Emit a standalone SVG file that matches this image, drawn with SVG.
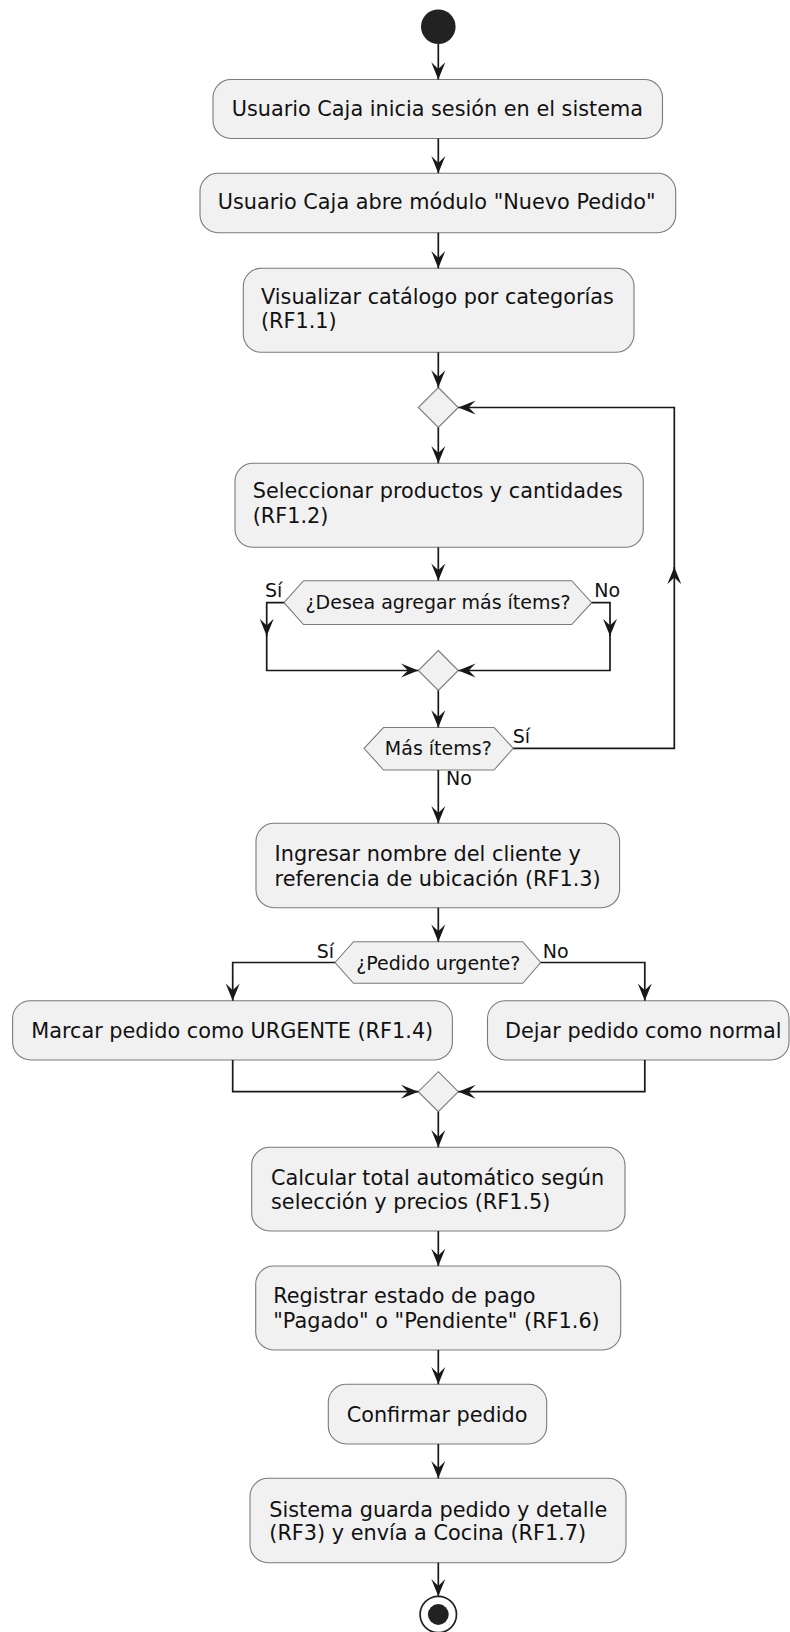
<svg xmlns="http://www.w3.org/2000/svg" width="790" height="1632" viewBox="0 0 790 1632">
  <defs>
    <style>
      .act { fill: #F1F1F1; stroke: #7A7A7A; stroke-width: 1.1; }
      .dec { fill: #F1F1F1; stroke: #7A7A7A; stroke-width: 1.1; }
      .t { font-family: "DejaVu Sans", "Liberation Sans", sans-serif; font-size: 20.8px; fill: #111; }
      .td { font-family: "DejaVu Sans", "Liberation Sans", sans-serif; font-size: 19px; fill: #111; text-anchor: middle; }
      .tl { font-family: "DejaVu Sans", "Liberation Sans", sans-serif; font-size: 19px; fill: #111; }
      .edge { fill: none; stroke: #181818; stroke-width: 1.7; marker-end: url(#arrow); }
    </style>
    <marker id="arrow" markerUnits="userSpaceOnUse" viewBox="-18 -8 19 16" markerWidth="19" markerHeight="16" refX="0" refY="0" orient="auto">
      <path d="M-17.3,-7 L0,0 L-17.3,7 L-10.4,0 Z" fill="#181818"/>
    </marker>
  </defs>
  <rect width="790" height="1632" fill="#FFFFFF"/>

  <!-- start / end -->
  <g id="start"><circle cx="438.3" cy="26.7" r="17.3" fill="#222222"/></g>
  <g id="end">
    <circle cx="438.3" cy="1614.5" r="18.2" fill="none" stroke="#222222" stroke-width="1.7"/>
    <circle cx="438.3" cy="1614.5" r="10.4" fill="#222222"/>
  </g>

  <!-- activities -->
  <g id="login">
    <rect class="act" x="213" y="79.5" width="449.5" height="59" rx="18"/>
    <text class="t" x="231.7" y="116">Usuario Caja inicia sesión en el sistema</text>
  </g>
  <g id="open-module">
    <rect class="act" x="200" y="173.3" width="475.7" height="59.4" rx="18"/>
    <text class="t" x="217.7" y="209.3">Usuario Caja abre módulo "Nuevo Pedido"</text>
  </g>
  <g id="catalog">
    <rect class="act" x="243.3" y="268.3" width="390.7" height="84" rx="18"/>
    <text class="t" x="261" y="304">Visualizar catálogo por categorías</text>
    <text class="t" x="261" y="328.3">(RF1.1)</text>
  </g>
  <g id="loop-merge">
    <polygon class="dec" points="438.3,387.5 458.3,407.5 438.3,427.5 418.3,407.5"/>
  </g>
  <g id="select-products">
    <rect class="act" x="235" y="463.3" width="408.3" height="84" rx="18"/>
    <text class="t" x="252.7" y="498.3">Seleccionar productos y cantidades</text>
    <text class="t" x="252.7" y="523.3">(RF1.2)</text>
  </g>
  <g id="ask-more">
    <polygon class="dec" points="284,602.7 303.5,580.7 571.7,580.7 591.7,602.7 571.7,624.5 303.5,624.5"/>
    <text class="td" x="438" y="609.3">¿Desea agregar más ítems?</text>
  </g>
  <g id="ask-merge">
    <polygon class="dec" points="438.3,650.5 458.3,670.5 438.3,690.5 418.3,670.5"/>
  </g>
  <g id="more-items">
    <polygon class="dec" points="364,748.3 383.5,727.5 494,727.5 513.3,748.3 494,770 383.5,770"/>
    <text class="td" x="438.3" y="754.5">Más ítems?</text>
  </g>
  <g id="customer">
    <rect class="act" x="256" y="823.3" width="363.6" height="84.4" rx="18"/>
    <text class="t" x="274.6" y="861">Ingresar nombre del cliente y</text>
    <text class="t" x="274.6" y="886">referencia de ubicación (RF1.3)</text>
  </g>
  <g id="urgent">
    <polygon class="dec" points="335,962.5 353.5,941.7 522.7,941.7 540.7,962.5 522.7,983.3 353.5,983.3"/>
    <text class="td" x="438.3" y="970">¿Pedido urgente?</text>
  </g>
  <g id="mark-urgent">
    <rect class="act" x="12.6" y="1000.7" width="439.8" height="59.3" rx="18"/>
    <text class="t" x="31.2" y="1038.3">Marcar pedido como URGENTE (RF1.4)</text>
  </g>
  <g id="keep-normal">
    <rect class="act" x="487.5" y="1000.7" width="301.5" height="59.3" rx="18"/>
    <text class="t" x="505" y="1038.3">Dejar pedido como normal</text>
  </g>
  <g id="urgent-merge">
    <polygon class="dec" points="438.3,1071.7 458.3,1091.7 438.3,1111.7 418.3,1091.7"/>
  </g>
  <g id="total">
    <rect class="act" x="251.7" y="1147.3" width="373.3" height="83.7" rx="18"/>
    <text class="t" x="271" y="1185">Calcular total automático según</text>
    <text class="t" x="271" y="1209.3">selección y precios (RF1.5)</text>
  </g>
  <g id="payment">
    <rect class="act" x="255.7" y="1266" width="365" height="84" rx="18"/>
    <text class="t" x="273.3" y="1303.3">Registrar estado de pago</text>
    <text class="t" x="273.3" y="1328.3">"Pagado" o "Pendiente" (RF1.6)</text>
  </g>
  <g id="confirm">
    <rect class="act" x="328.3" y="1384.3" width="218.4" height="59.7" rx="18"/>
    <text class="t" x="346.7" y="1421.7">Confirmar pedido</text>
  </g>
  <g id="save">
    <rect class="act" x="250" y="1478.3" width="376" height="84.4" rx="18"/>
    <text class="t" x="269.3" y="1516.7">Sistema guarda pedido y detalle</text>
    <text class="t" x="269.3" y="1540">(RF3) y envía a Cocina (RF1.7)</text>
  </g>

  <!-- connectors -->
  <g id="connectors">
    <path class="edge" d="M438.3,44 V79.5"/>
    <path class="edge" d="M438.3,138.5 V173.3"/>
    <path class="edge" d="M438.3,232.7 V268.3"/>
    <path class="edge" d="M438.3,352.3 V387.5"/>
    <path class="edge" d="M438.3,427.5 V463.3"/>
    <path class="edge" d="M438.3,547.3 V580.7"/>

    <path class="edge" d="M284,602.7 H266.7 V636"/>
    <path class="edge" d="M266.7,634 V670.5 H418.3"/>
    <path class="edge" d="M591.7,602.7 H610 V636"/>
    <path class="edge" d="M610,634 V670.5 H458.3"/>

    <path class="edge" d="M438.3,690.5 V727.5"/>

    <path class="edge" d="M513.3,748.3 H674.3 V567"/>
    <path class="edge" d="M674.3,569 V407.5 H458.3"/>

    <path class="edge" d="M438.3,770 V823.3"/>
    <path class="edge" d="M438.3,907.7 V941.7"/>

    <path class="edge" d="M335,962.5 H232.7 V1000.7"/>
    <path class="edge" d="M540.7,962.5 H644.8 V1000.7"/>
    <path class="edge" d="M232.7,1060 V1091.7 H418.3"/>
    <path class="edge" d="M644.8,1060 V1091.7 H458.3"/>

    <path class="edge" d="M438.3,1111.7 V1147.3"/>
    <path class="edge" d="M438.3,1231 V1266"/>
    <path class="edge" d="M438.3,1350 V1384.3"/>
    <path class="edge" d="M438.3,1444 V1478.3"/>
    <path class="edge" d="M438.3,1562.7 V1596.3"/>

    <text class="tl" x="265" y="596.7">Sí</text>
    <text class="tl" x="594.3" y="597">No</text>
    <text class="tl" x="512.7" y="743.3">Sí</text>
    <text class="tl" x="446" y="785">No</text>
    <text class="tl" x="316.7" y="958.3">Sí</text>
    <text class="tl" x="542.7" y="958.3">No</text>
  </g>
</svg>
